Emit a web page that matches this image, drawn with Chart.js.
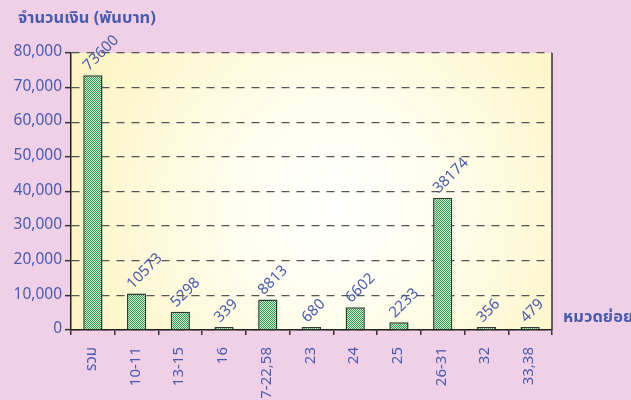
<!DOCTYPE html>
<html>
<head>
<meta charset="utf-8">
<script src="https://cdn.jsdelivr.net/npm/chart.js@4.4.0/dist/chart.umd.min.js"></script>
<style>
html,body{margin:0;padding:0;background:#f0d0e6;}
#wrap{width:631px;height:400px;position:relative;}
</style>
</head>
<body>
<div id="wrap"><canvas id="c" width="631" height="400"></canvas></div>
<script>
const categories = ['รวม','10-11','13-15','16','17-22,58','23','24','25','26-31','32','33,38'];
const values = [73600,10573,5298,339,8813,680,6602,2233,38174,356,479];
const yTicks = [0,10000,20000,30000,40000,50000,60000,70000,80000];
const titleText = 'จำนวนเงิน (พันบาท)';
const xTitleText = 'หมวดย่อย';

const FONT = "Tahoma, 'Noto Sans Thai', 'Noto Sans', 'DejaVu Sans', sans-serif";
const BLUE = '#4a5bab';

function makePattern(){
  const p = document.createElement('canvas');
  p.width = 2; p.height = 2;
  const g = p.getContext('2d');
  g.fillStyle = '#d2eecf'; g.fillRect(0,0,2,2);
  g.fillStyle = '#2c9652'; g.fillRect(0,0,1,1); g.fillRect(1,1,1,1);
  return g.createPattern(p,'repeat');
}
const ctx0 = document.getElementById('c').getContext('2d');
const pattern = makePattern();

const bgPlugin = {
  id:'bgPlugin',
  beforeDraw(chart){
    const {ctx, chartArea:a} = chart;
    ctx.save();
    ctx.fillStyle = '#f0d0e6';
    ctx.fillRect(0,0,chart.width,chart.height);
    const cx = a.left + (a.right-a.left)*0.55, cy = a.top + (a.bottom-a.top)*0.55;
    const r = Math.max(a.right-a.left, a.bottom-a.top)*0.6;
    const grd = ctx.createRadialGradient(cx,cy,0,cx,cy,r);
    grd.addColorStop(0,'#ffffff');
    grd.addColorStop(0.3,'#fffef2');
    grd.addColorStop(1,'#fcf4c2');
    ctx.fillStyle = grd;
    ctx.fillRect(a.left,a.top,a.right-a.left,a.bottom-a.top);
    ctx.restore();
  },
  afterDraw(chart){
    const {ctx, chartArea:a} = chart;
    ctx.save();
    ctx.strokeStyle = '#333';
    ctx.lineWidth = 1.5;
    ctx.beginPath();
    ctx.moveTo(a.right, a.top); ctx.lineTo(a.right, a.bottom);
    ctx.stroke();
    ctx.fillStyle = BLUE;
    ctx.font = "bold 16.5px " + FONT;
    ctx.textBaseline = 'middle';
    ctx.textAlign = 'left';
    ctx.fillText(titleText, 18, 20);
    ctx.fillText(xTitleText, a.right + 11, a.bottom - 11);
    const meta = chart.getDatasetMeta(0);
    ctx.font = "15px " + FONT;
    ctx.textBaseline = 'alphabetic';
    ctx.textAlign = 'left';
    meta.data.forEach((bar,i)=>{
      ctx.save();
      ctx.translate(bar.x - 4, bar.y - 4);
      ctx.rotate(-Math.PI/4);
      ctx.fillText(String(values[i]), 0, 0);
      ctx.restore();
    });
    ctx.restore();
  }
};

new Chart(ctx0, {
  type:'bar',
  data:{
    labels: categories,
    datasets:[{
      data: values,
      backgroundColor: pattern,
      borderColor: '#2b3d30',
      borderWidth: 1.5,
      minBarLength: 3,
      barPercentage: 0.44,
      categoryPercentage: 1.0
    }]
  },
  options:{
    responsive:false,
    animation:false,
    devicePixelRatio:1,
    layout:{padding:{top:53,right:79,left:0,bottom:0}},
    plugins:{legend:{display:false},tooltip:{enabled:false},title:{display:false}},
    scales:{
      x:{
        offset:true,
        grid:{display:true, drawOnChartArea:false, offset:true, tickLength:5, color:'#333', lineWidth:1.5},
        border:{display:true, color:'#222', width:1.5},
        ticks:{color:BLUE, font:{family:FONT, size:15}, minRotation:90, maxRotation:90, padding:12, autoSkip:false},
        afterFit(s){ s.height = 70; }
      },
      y:{
        min:0, max:80000,
        afterBuildTicks(s){ s.ticks = yTicks.map(v=>({value:v})); },
        grid:{display:true, color:'#555', lineWidth:1.3, tickLength:6, tickColor:'#333', tickBorderDash:[], tickWidth:1.5},
        border:{display:true, color:'#222', width:1.5, dash:[8,7]},
        ticks:{color:BLUE, font:{family:FONT, size:15.5}, padding:3,
          callback:(v)=>v.toLocaleString('en-US')},
        afterFit(s){ s.width = 71; }
      }
    }
  },
  plugins:[bgPlugin]
});
</script>
</body>
</html>
